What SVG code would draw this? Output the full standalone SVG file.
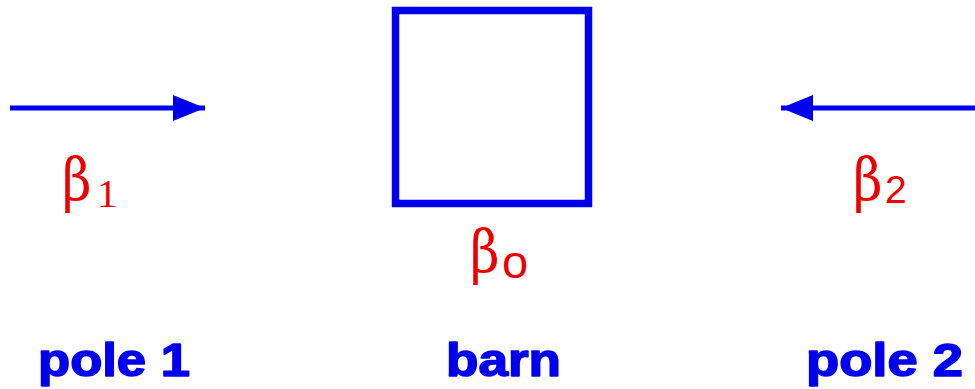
<svg xmlns="http://www.w3.org/2000/svg" width="975" height="389" viewBox="0 0 975 389">
<style>
.lbl{font-family:"Liberation Sans",Arial,sans-serif;font-weight:bold;font-size:47px;fill:#0000ee;stroke:#0000ee;stroke-width:1.6;stroke-linejoin:round}
.beta{font-family:"DejaVu Serif","Liberation Serif",serif;font-size:60px;fill:#ee0000}
.idx{fill:#ee0000}
.sub{font-family:"Liberation Serif","Times New Roman",serif}
.sans{font-family:"Liberation Sans",Arial,sans-serif}
.wire{stroke:#0000ee;stroke-width:5;fill:none}
</style>
<defs>
<marker id="ah" markerUnits="userSpaceOnUse" markerWidth="34" markerHeight="28" refX="32" refY="13" orient="auto">
<polygon points="0,0 32,13 0,26" fill="#0000ee"/>
</marker>
</defs>
<g id="connectors">
<line class="wire" x1="10" y1="108" x2="205" y2="108" marker-end="url(#ah)"/>
<line class="wire" x1="975" y1="108" x2="781" y2="108" marker-end="url(#ah)"/>
</g>
<g id="barn">
<rect x="395.5" y="10.5" width="193" height="193" fill="none" stroke="#0000ee" stroke-width="7.5"/>
<text class="beta" transform="translate(470 273) scale(0.85 1)">β</text>
<text class="idx sans" x="502" y="278" font-size="47">o</text>
<text class="lbl" x="446" y="376" textLength="115" lengthAdjust="spacingAndGlyphs">barn</text>
</g>
<g id="pole1">
<text class="beta" transform="translate(62 201) scale(0.85 1)">β</text>
<text class="idx sub" x="97" y="207" font-size="41">1</text>
<text class="lbl" x="38" y="376" textLength="152" lengthAdjust="spacingAndGlyphs">pole 1</text>
</g>
<g id="pole2">
<text class="beta" transform="translate(853 201) scale(0.85 1)">β</text>
<text class="idx sans" x="885" y="203" font-size="39">2</text>
<text class="lbl" x="806" y="376" textLength="157" lengthAdjust="spacingAndGlyphs">pole 2</text>
</g>
</svg>
